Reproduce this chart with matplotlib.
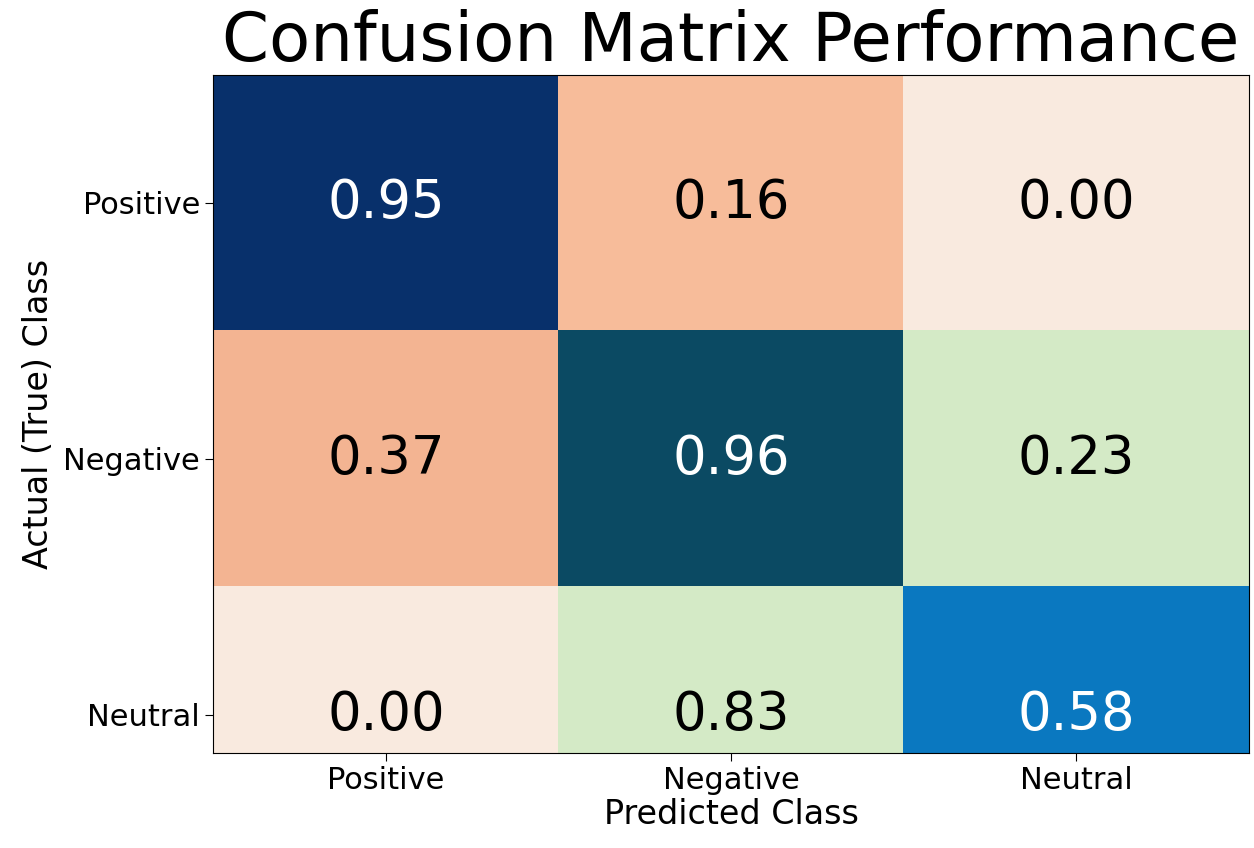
import numpy as np
import matplotlib
matplotlib.use('Agg')
import matplotlib.pyplot as plt
from matplotlib.colors import to_rgb

classes = ['Positive', 'Negative', 'Neutral']
values = [
    [0.95, 0.16, 0.00],
    [0.37, 0.96, 0.23],
    [0.00, 0.83, 0.58],
]
cell_colors = [
    ['#08306b', '#f7bc9a', '#f9eadf'],
    ['#f3b492', '#0b4a63', '#d4eac6'],
    ['#f9eadf', '#d4eac6', '#0a78c0'],
]
text_colors = [
    ['white', 'black', 'black'],
    ['black', 'white', 'black'],
    ['black', 'black', 'white'],
]

fig = plt.figure(figsize=(12.54, 8.48), dpi=100)
ax = fig.add_axes([0.170, 0.112, 0.826, 0.800])
img = np.array([[to_rgb(c) for c in row] for row in cell_colors])
ax.imshow(img, aspect='auto')
ax.set_ylim(2.15, -0.5)

for i in range(3):
    for j in range(3):
        ax.text(j, i, f'{values[i][j]:.2f}', ha='center', va='center',
                fontsize=38, color=text_colors[i][j])

ax.set_xticks(range(3))
ax.set_xticklabels(classes, fontsize=22)
ax.set_yticks(range(3))
ax.set_yticklabels(classes, fontsize=22)
ax.tick_params(length=6)
ax.set_xlabel('Predicted Class', fontsize=24, labelpad=2)
ax.set_ylabel('Actual (True) Class', fontsize=24, labelpad=6)
ax.set_title('Confusion Matrix Performance', fontsize=48.5, pad=4)

plt.savefig('out.png', dpi=100)
